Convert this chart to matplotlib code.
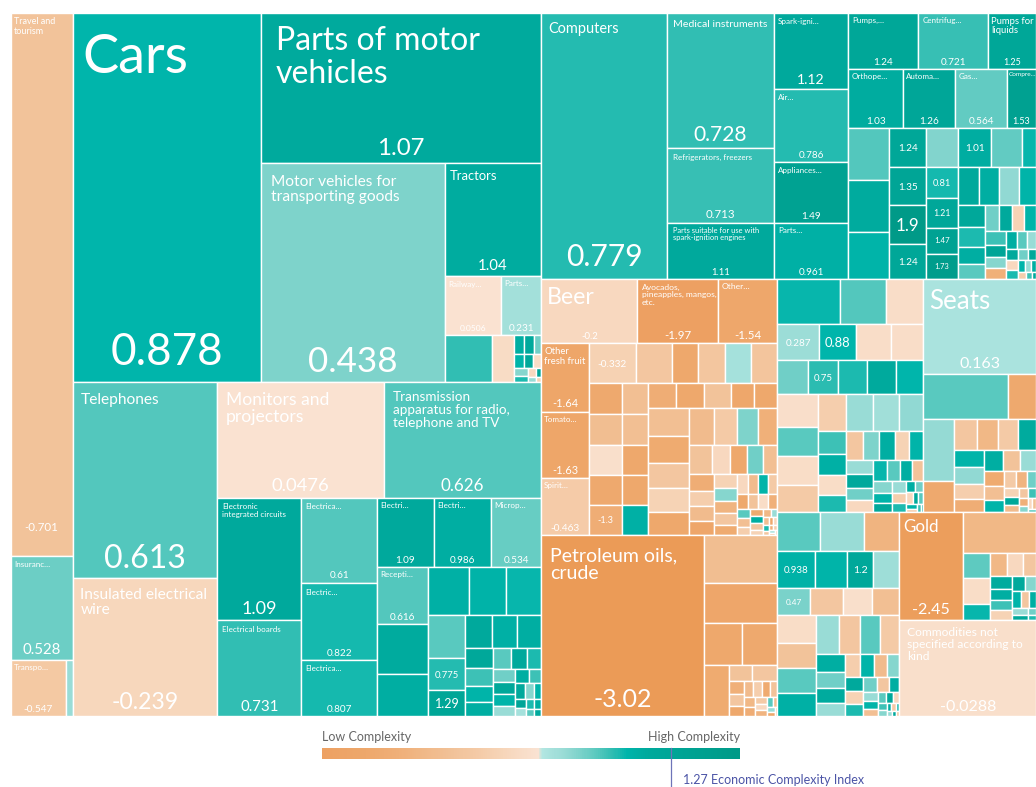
import numpy as np
import matplotlib
matplotlib.use("Agg")
import matplotlib.pyplot as plt
from matplotlib.colors import LinearSegmentedColormap, Normalize
from matplotlib.patches import Rectangle

# ---------------------------------------------------------------------------
# Data: export value of each product (relative units) and its complexity (PCI)
# None = no label, "" = value only
# ---------------------------------------------------------------------------

# services
svc_names = ["Travel and tourism", "Insuranc…", "Transpo…", None]
svc_values = [337, 64, 31, 4]
svc_eci = [-0.701, 0.528, -0.547, 0.30]

# transportation
tr_names = ["Cars", "Parts of motor vehicles", "Motor vehicles for transporting goods",
            "Tractors", "Railway…", "Parts…", None, None]
tr_values = [695.6, 420, 402.6, 109.6, 33.1, 23.2, 22.5, 10.3]
tr_eci = [0.878, 1.07, 0.438, 1.04, 0.0506, 0.231, 0.74, -0.12]
tr_tail_values = [2.0, 1.9, 1.5, 1.4, 1.3, 1.2, 1.1, 0.9, 0.7, 0.5, 0.4, 0.3]
tr_tail_eci = [1.0, 1.1, 0.5, 0.9, 1.2, -0.1, 0.4, 0.8, -0.2, 1.3, 0.3, -0.3]

# electronics
el_names = ["Telephones", "Insulated electrical wire", "Monitors and projectors",
            "Transmission apparatus for radio, telephone and TV",
            "Electronic integrated circuits", "Electrical boards", "Electrica…",
            "Electric…", "Electrica…", "Electri…", "Electri…", "Microp…", "Recepti…",
            None, None, None, None, None, None, "", ""]
el_values = [282.2, 198.7, 192, 180.6, 103.3, 80.6, 64.5, 57.8, 42, 39.3, 40, 34.5,
             29.1, 26, 21.4, 19.2, 17.8, 16.8, 16.3, 11.8, 9.6]
el_eci = [0.613, -0.239, 0.0476, 0.626, 1.09, 0.731, 0.61, 0.822, 0.807, 1.09, 0.986,
          0.534, 0.616, 1.05, 1.0, 0.95, 0.92, 0.85, 0.6, 0.775, 1.29]
el_tail_values = [8.8, 8.4, 8.0, 5.6, 5.0, 4.4, 4.0, 3.6, 3.4, 3.0, 2.8, 2.6, 2.4, 2.2,
                  2.0, 1.8, 1.6, 1.4, 1.2, 1.0, 0.9, 0.8, 0.7, 0.6, 0.5]
el_tail_eci = [1.1, 0.95, 1.0, 1.2, 0.7, 0.9, 1.0, 0.6, 1.1, 0.8, 0.5, 1.2, 0.9, 0.3,
               1.0, 0.7, 1.1, 0.4, 0.9, 1.3, 0.2, 0.8, 1.0, 0.6, 1.1]

# machines
mc_names = ["Computers", "Medical instruments", "Refrigerators, freezers",
            "Parts suitable for use with spark-ignition engines", "Spark-igni…", "Air…",
            "Appliances…", "Parts…", "Pumps,…", "Centrifug…", "Pumps for liquids",
            "Orthope…", "Automa…", "Gas…", "Compre…", None, None, None,
            "", "", "", "", None, "", None, None, "", "", "", ""]
mc_values = [333.9, 144.5, 79.2, 59.9, 57, 54.8, 45, 42, 39.2, 39.2, 26.9, 32.5, 30.7,
             30.7, 17.1, 21.3, 20.9, 19.3, 14.4, 14.1, 14.1, 13, 12.5, 12.9, 12.1, 5.5,
             9.9, 9.3, 8.3, 8]
mc_eci = [0.779, 0.728, 0.713, 1.11, 1.12, 0.786, 1.49, 0.961, 1.24, 0.721, 1.25, 1.03,
          1.26, 0.564, 1.53, 0.62, 1.05, 0.9, 1.24, 1.35, 1.9, 1.24, 0.42, 1.01, 0.55,
          0.85, 0.81, 1.21, 1.47, 1.73]
mc_tail_values = [8.0, 7.6, 7.4, 6.6, 5.8, 5.3, 4.4, 4.0, 3.6, 3.4, 3.2, 3.0, 2.8, 2.6,
                  2.4, 2.2, 2.0, 1.8, 1.6, 1.4, 1.2, 1.1, 1.0, 0.9, 0.8, 0.7, 0.6, 0.5,
                  0.4, 0.3]
mc_tail_eci = [1.1, 1.0, 0.35, 0.9, 1.2, 0.8, 1.0, 0.6, 0.5, 1.1, -0.3, 0.9, 0.7, 1.3,
               0.4, -1.2, 1.0, 0.6, 0.3, 1.1, -0.2, 0.8, 0.5, 1.2, 0.9, 0.3, 1.0, -0.4,
               0.7, 1.1]

# vegetable and food products
vg_names = ["Beer", "Avocados, pineapples, mangos, etc.", "Other…", "Other fresh fruit",
            "Tomato…", "Spirit…", "", None, None, None, None, None,
            None, None, None, None, "", None, None, None, None, None,
            None, None, None, None, None]
vg_values = [61.4, 51.8, 37.8, 32.4, 31.5, 26.8, 18.8, 14.4, 10.8, 10.8, 10.4, 10.4,
             10.2, 10.2, 9.9, 9.9, 9.9, 8.1, 8.1, 7.8, 7.8, 7.8, 7.0, 7.0, 6.8, 5.8, 5.8]
vg_eci = [-0.2, -1.97, -1.54, -1.64, -1.63, -0.463, -0.332, -0.6, -1.5, -0.62, 0.2, -0.65,
          -1.45, -0.85, -0.03, -1.45, -1.3, -0.8, -0.8, -1.5, -1.5, 0.95,
          -1.3, -1.5, -0.7, -1.55, -1.5]
vg_tail_values = [11.5, 11, 10.5, 10, 9.5, 9, 8.4, 7.8, 7.2, 6.6, 5.2, 4.9, 4.6, 4.3,
                  4.0, 3.8, 3.6, 3.4, 3.2, 3.0, 2.8, 2.6, 2.4, 2.2, 2.0, 1.9, 1.8, 1.7,
                  1.6, 1.5, 1.4, 1.3, 1.2, 1.1, 1.0, 0.9, 0.8, 0.7, 0.6, 0.5, 0.45, 0.4,
                  0.35, 0.3, 0.25, 0.2, 0.2, 0.15, 0.15, 0.1]
vg_tail_eci = [-0.8, -1.4, -0.6, -0.3, -1.5, -0.9, -0.5, 0.45, -1.2, -0.7, -0.2, -1.5,
               0.5, -0.8, -1.3, -0.4, -0.9, -1.6, -0.3, 0.4, -1.1, -0.6, -1.4, -0.2,
               -0.9, 0.9, -0.5, -1.5, -0.7, -0.1, -1.2, 0.6, -0.8, -0.4, -1.4, 1.0,
               -0.6, -0.3, -1.0, 0.3, -0.8, -1.5, -0.2, 0.8, -0.6, -1.2, -0.4, 0.2,
               -0.9, -0.5]

# mineral products
mn_names = ["Petroleum oils, crude", None, None, None, None, None, None, None]
mn_values = [293.2, 35.3, 29.3, 16, 14.8, 12.8, 3.8, 4.0]
mn_eci = [-3.02, -0.85, -1.6, -1.5, -1.45, -1.4, -0.7, -0.6]
mn_tail_values = [2.0, 1.8, 1.6, 1.4, 1.4, 1.3, 1.2, 1.1, 1.0, 0.9, 0.8, 0.7, 0.6, 0.5,
                  0.4, 0.3, 0.2]
mn_tail_eci = [-1.2, -0.6, -1.5, -0.9, -0.4, -1.4, -0.7, -1.0, -1.3, -0.5, -0.2, -1.1,
               0.6, -0.8, 0.3, -1.5, -0.6]

# chemicals, plastics and others
rt_names = [None, None, None, "", "", None, None, None, "", None, None, None]
rt_values = [28.4, 20.7, 17.1, 15.1, 13.3, 12.6, 11.5, 10.5, 10.2, 9.9, 9.9, 9.2]
rt_eci = [0.85, 0.62, -0.08, 0.287, 0.88, -0.08, -0.08, 0.5, 0.75, 0.8, 1.07, 0.88]
rt_tail_values = [13, 12, 11.5, 11, 10.5, 10, 9.5, 9, 6.5, 6, 5.5, 5, 4.8, 4.6, 4.4,
                  4.2, 4.0, 3.8, 3.6, 3.4, 3.2, 3.0, 2.8, 2.6, 2.4, 2.2, 2.0, 1.8, 1.6,
                  1.4, 1.2, 1.0, 0.9, 0.8, 0.7, 0.6, 0.5, 0.4, 0.3, 0.2]
rt_tail_eci = [-0.05, 0.6, -0.1, -0.5, -0.4, 0.3, 0.25, 0.35, 0.7, 0.95, -0.1, 0.8,
               -0.6, 0.45, 1.0, -0.3, 0.9, 0.3, 1.1, 0.5, -0.2, 0.85, 0.6, 1.0, -0.7,
               0.4, 0.9, 1.2, 0.3, -0.4, 0.8, 1.0, 0.5, -0.2, 1.1, 0.6, 0.9, -0.5, 0.7,
               1.0]

# furniture and miscellaneous
fs_names = ["Seats", None, None, None, None]
fs_values = [106.4, 38.6, 12.9, 18.6, 9.3]
fs_eci = [0.163, 0.6, -1.45, 0.32, -1.45]
fs_tail_values = [7, 6.5, 6, 5.5, 5.4, 5, 4.5, 4.2, 3.9, 3.6, 3.3, 3.0, 2.7, 2.4, 2.1,
                  1.8, 1.6, 1.4, 1.2, 1.0, 0.9, 0.8, 0.7, 0.6, 0.5, 0.4, 0.3]
fs_tail_eci = [-0.6, -1.0, -0.5, 1.05, 0.9, 0.35, -0.4, -1.3, 1.0, -0.7, 0.3, -1.4,
               -0.8, 0.9, -0.5, -1.1, 0.5, -0.3, 1.2, -0.9, -0.6, 0.7, -1.2, 0.4, -0.2,
               -0.8, 0.6]

# metals and textiles
rb_names = [None, None, None, "", None, "", None, "", None, None, None]
rb_values = [16.8, 16.8, 14, 13.7, 11.8, 9.3, 9.6, 9, 9, 8.1, 7.6]
rb_eci = [0.6, 0.3, -1.1, 0.938, 0.9, 1.2, 0.27, 0.47, -0.6, -0.03, -0.8]
rb_tail_values = [10.5, 10, 9.5, 9, 8.6, 8.2, 7.8, 7.4, 5, 4.6, 4.2, 3.8, 3.5, 3.2, 3.0,
                  2.8, 2.6, 2.4, 2.2, 2.0, 1.8, 1.6, 1.4, 1.2, 1.0, 0.9, 0.8, 0.7, 0.6,
                  0.5, 0.4, 0.35, 0.3, 0.25, 0.2, 0.15]
rb_tail_eci = [-0.1, -0.7, 0.6, 0.95, 0.3, -0.6, 0.6, -0.5, 1.0, 0.5, 1.05, 0.3, -0.4,
               0.9, -0.9, 0.4, 1.1, -0.3, 0.8, 0.5, -0.6, 1.0, 0.3, 0.9, -0.8, 0.6, 1.2,
               -0.2, 0.7, 0.4, 1.0, -0.5, 0.8, 0.3, 1.1, -0.7]

# precious metals and unspecified
gd_names = ["Gold", None, "Commodities not specified according to kind"]
gd_values = [68, 29.5, 131]
gd_eci = [-2.45, -1.0, -0.0288]
gd_tail_values = [7.1, 6.9, 4.5, 3.8, 3.8, 3.0, 2.8, 2.5, 2.3, 2.1, 1.9, 1.7, 1.5, 1.3,
                  1.2, 1.0, 0.8, 0.6, 0.4]
gd_tail_eci = [0.58, -0.1, 0.85, -1.0, -0.2, -0.6, 1.05, 1.0, 0.7, -0.3, 1.1, 0.4, 0.9,
               -0.6, 1.0, 0.3, 1.2, 0.5, 0.8]

country_eci = 1.27
legend_range = (-1.9, 1.9)

# ---------------------------------------------------------------------------
# colour scale (PCI -> colour)
# ---------------------------------------------------------------------------
stops = [(-3.1, "#EB9B56"), (-2.0, "#EDA061"), (-1.5, "#EEA86C"), (-1.2, "#F0B079"),
         (-0.7, "#F2C39A"), (-0.45, "#F5CCA9"), (-0.25, "#F7D6BA"), (0.07, "#FAE3D3"),
         (0.10, "#B4E7E3"), (0.17, "#AAE3DE"), (0.30, "#9ADCD6"), (0.45, "#7DD3CB"),
         (0.60, "#5AC9BF"), (0.75, "#2FBDB2"), (0.88, "#00B5AB"), (1.07, "#00AA9D"),
         (1.50, "#00A292"), (1.95, "#009987")]
vmin, vmax = stops[0][0], stops[-1][0]
cmap = LinearSegmentedColormap.from_list(
    "pci", [((v - vmin) / (vmax - vmin), c) for v, c in stops])
norm = Normalize(vmin, vmax)

# label sizes in px: name size, value size, wrapped text
LABEL_STYLE = {
    "Travel and tourism": (9, 11.5, "Travel and\ntourism"),
    "Insuranc…": (8, 15, None),
    "Cars": (54, 44, None),
    "Parts of motor vehicles": (32, 24, "Parts of motor\nvehicles"),
    "Motor vehicles for transporting goods": (15.5, 35, "Motor vehicles for\ntransporting goods"),
    "Tractors": (13, 15, None),
    "Railway…": (8, 8.5, None),
    "Telephones": (15.5, 32, None),
    "Insulated electrical wire": (15.5, 23, "Insulated electrical\nwire"),
    "Monitors and projectors": (17.5, 18.5, "Monitors and\nprojectors"),
    "Transmission apparatus for radio, telephone and TV":
        (13.5, 17, "Transmission\napparatus for radio,\ntelephone and TV"),
    "Electronic integrated circuits": (8, 18, "Electronic\nintegrated circuits"),
    "Electrical boards": (8, 15, None),
    "Computers": (14.5, 30, None),
    "Medical instruments": (10.5, 21, None),
    "Refrigerators, freezers": (8, 11.5, None),
    "Parts suitable for use with spark-ignition engines":
        (7.5, 9.5, "Parts suitable for use with\nspark-ignition engines"),
    "Spark-igni…": (8, 14, None),
    "Pumps for liquids": (9.5, 9, "Pumps for\nliquids"),
    "Compre…": (6.5, 9, None),
    "Beer": (23, 9.5, None),
    "Avocados, pineapples, mangos, etc.": (8.5, 11.5, "Avocados,\npineapples, mangos,\netc."),
    "Other…": (8.5, 11.5, None),
    "Other fresh fruit": (9.5, 11, "Other\nfresh fruit"),
    "Tomato…": (8, 11, None),
    "Seats": (26, 16, None),
    "Petroleum oils, crude": (19.5, 25, "Petroleum oils,\ncrude"),
    "Gold": (17, 16, None),
    "Commodities not specified according to kind":
        (12, 16, "Commodities not\nspecified according to\nkind"),
}
VALUE_PX = {"1.9": 17, "1.29": 12.5, "0.88": 13, "1.2": 10.5}


# ---------------------------------------------------------------------------
# treemap layout
# ---------------------------------------------------------------------------
def leaves(names, values, ecis):
    return [("leaf", n, v, e) for n, v, e in zip(names, values, ecis, strict=True)]


def tail(values, ecis):
    return ("sq", leaves([None] * len(values), values, ecis))


def H(*kids):
    return ("h", list(kids))


def V(*kids):
    return ("v", list(kids))


def total(node):
    if node[0] == "leaf":
        return node[2]
    return sum(total(k) for k in node[1])


def squarify(vals, x0, y0, x1, y1, ratio=(1 + 5 ** 0.5) / 2):
    rects, n, i0 = [], len(vals), 0
    value = sum(vals)
    while i0 < n:
        dx, dy = x1 - x0, y1 - y0
        s = vals[i0]
        i1 = i0 + 1
        lo = hi = s
        alpha = max(dy / dx, dx / dy) / (value * ratio)
        beta = s * s * alpha
        best = max(hi / beta, beta / lo)
        while i1 < n:
            v = vals[i1]
            s2, lo2, hi2 = s + v, min(lo, v), max(hi, v)
            beta = s2 * s2 * alpha
            r = max(hi2 / beta, beta / lo2)
            if r > best:
                break
            s, lo, hi, best = s2, lo2, hi2, r
            i1 += 1
        if dx < dy:
            yb = y0 + dy * s / value
            xx = x0
            for v in vals[i0:i1]:
                w = dx * v / s
                rects.append((xx, y0, xx + w, yb))
                xx += w
            y0 = yb
        else:
            xb = x0 + dx * s / value
            yy = y0
            for v in vals[i0:i1]:
                h = dy * v / s
                rects.append((x0, yy, xb, yy + h))
                yy += h
            x0 = xb
        value -= s
        i0 = i1
    return rects


def place(node, x0, y0, x1, y1, out):
    if node[0] == "leaf":
        out.append((x0, y0, x1, y1, node[1], node[3]))
        return
    kind, kids = node
    sums = [total(k) for k in kids]
    tot = sum(sums)
    if kind == "sq":
        for k, r in zip(kids, squarify(sums, x0, y0, x1, y1)):
            place(k, *r, out)
    elif kind == "h":
        x = x0
        for k, s in zip(kids, sums):
            w = (x1 - x0) * s / tot
            place(k, x, y0, x + w, y1, out)
            x += w
    else:
        y = y0
        for k, s in zip(kids, sums):
            h = (y1 - y0) * s / tot
            place(k, x0, y, x1, y + h, out)
            y += h


s = leaves(svc_names, svc_values, svc_eci)
t = leaves(tr_names, tr_values, tr_eci)
e = leaves(el_names, el_values, el_eci)
m = leaves(mc_names, mc_values, mc_eci)
v = leaves(vg_names, vg_values, vg_eci)
n = leaves(mn_names, mn_values, mn_eci)
r = leaves(rt_names, rt_values, rt_eci)
f = leaves(fs_names, fs_values, fs_eci)
b = leaves(rb_names, rb_values, rb_eci)
g = leaves(gd_names, gd_values, gd_eci)

services = V(s[0], s[1], H(s[2], s[3]))
transport = H(t[0], V(t[1], H(t[2], V(t[3], H(t[4], t[5]),
                                       H(t[6], t[7], tail(tr_tail_values, tr_tail_eci))))))
electronics = H(V(e[0], e[1]),
                V(H(e[2], e[3]),
                  H(V(e[4], e[5]), V(e[6], e[7], e[8]),
                    V(H(e[9], e[10], e[11]),
                      H(V(e[12], e[13], e[14]),
                        V(H(e[15], e[16], e[17]),
                          H(V(e[18], e[19], e[20]), tail(el_tail_values, el_tail_eci))))))))
machines = H(m[0], V(m[1], m[2], m[3]), V(m[4], m[5], m[6], m[7]),
             V(H(m[8], m[9], m[10]), H(m[11], m[12], m[13], m[14]),
               H(V(m[15], m[16], m[17]), V(m[18], m[19], m[20], m[21]),
                 V(H(m[22], m[23], m[24], m[25]),
                   H(V(m[26], m[27], m[28], m[29]), tail(mc_tail_values, mc_tail_eci))))))
vegetables = V(H(v[0], v[1], v[2]),
               H(V(v[3], v[4], v[5]),
                 V(H(*v[6:12]),
                   H(V(*v[12:17]), V(*v[17:22]),
                     V(H(*v[22:27]), tail(vg_tail_values, vg_tail_eci))))))
minerals = H(n[0], V(n[1], n[2], H(n[3], n[4]),
                     H(n[5], V(H(n[6], n[7]), tail(mn_tail_values, mn_tail_eci)))))
right_top = H(V(H(*r[0:3]), H(*r[3:7]), H(*r[7:12]), tail(rt_tail_values, rt_tail_eci)),
              V(f[0], H(f[1], f[2]), H(V(f[3], f[4]), tail(fs_tail_values, fs_tail_eci))))
right_bottom = H(V(H(*b[0:3]), H(*b[3:7]), H(*b[7:11]), tail(rb_tail_values, rb_tail_eci)),
                 V(H(g[0], V(g[1], tail(gd_tail_values, gd_tail_eci))), g[2]))
tree = H(services, V(transport, electronics),
         V(machines, H(V(vegetables, minerals), V(right_top, right_bottom))))

cells = []
place(tree, 10.5, 12.5, 1036, 716, cells)

# ---------------------------------------------------------------------------
# drawing
# ---------------------------------------------------------------------------
plt.rcParams["font.family"] = ["Lato", "DejaVu Sans"]
PT = 0.72  # px -> pt at dpi 100

fig = plt.figure(figsize=(10.36, 7.87), dpi=100)
ax = fig.add_axes([0, 0, 1, 1])

for x0, y0, x1, y1, name, pci in cells:
    w, h = x1 - x0, y1 - y0
    ax.add_patch(Rectangle((x0, y0), w, h, facecolor=cmap(norm(pci)),
                           edgecolor="white", linewidth=1.0))
    if name is None:
        continue
    val = f"{pci:.3g}"
    auto_px = min(1.3 * w / len(val), 0.3 * h, 10)
    if name == "":
        px = VALUE_PX.get(val, auto_px)
        ax.text((x0 + x1) / 2, (y0 + y1) / 2 + 0.36 * px, val, ha="center",
                va="baseline", color="white", fontsize=px * PT)
        continue
    name_px, val_px, shown = LABEL_STYLE.get(name, (8, auto_px, None))
    ax.text(x0 + 0.05 * w + 0.5, y0 + 0.05 * min(w, h) + 0.2 * name_px, shown or name,
            ha="left", va="top", color="white", fontsize=name_px * PT, linespacing=1.1)
    ax.text((x0 + x1) / 2, y1 - 0.045 * h - 1, val, ha="center", va="baseline",
            color="white", fontsize=val_px * PT)

# legend
bar_x0, bar_x1 = 322, 740
grad = np.linspace(legend_range[0], legend_range[1], 400)[None, :]
ax.imshow(grad, cmap=cmap, norm=norm, extent=(bar_x0, bar_x1, 759, 748),
          aspect="auto", interpolation="bilinear")
ax.text(bar_x0, 741, "Low Complexity", ha="left", va="baseline", color="#666666",
        fontsize=12.5 * PT)
ax.text(bar_x1, 741, "High Complexity", ha="right", va="baseline", color="#666666",
        fontsize=12.5 * PT)
mx = bar_x0 + (country_eci - legend_range[0]) / (legend_range[1] - legend_range[0]) * (bar_x1 - bar_x0)
ax.plot([mx, mx], [748, 787], color="#6E74B8", linewidth=0.9)
ax.text(mx + 12, 784, f"{country_eci} Economic Complexity Index", ha="left",
        va="baseline", color="#4B54A6", fontsize=12.5 * PT)

ax.set_xlim(0, 1036)
ax.set_ylim(787, 0)
ax.axis("off")

fig.savefig("out.png", dpi=100, facecolor="white")
